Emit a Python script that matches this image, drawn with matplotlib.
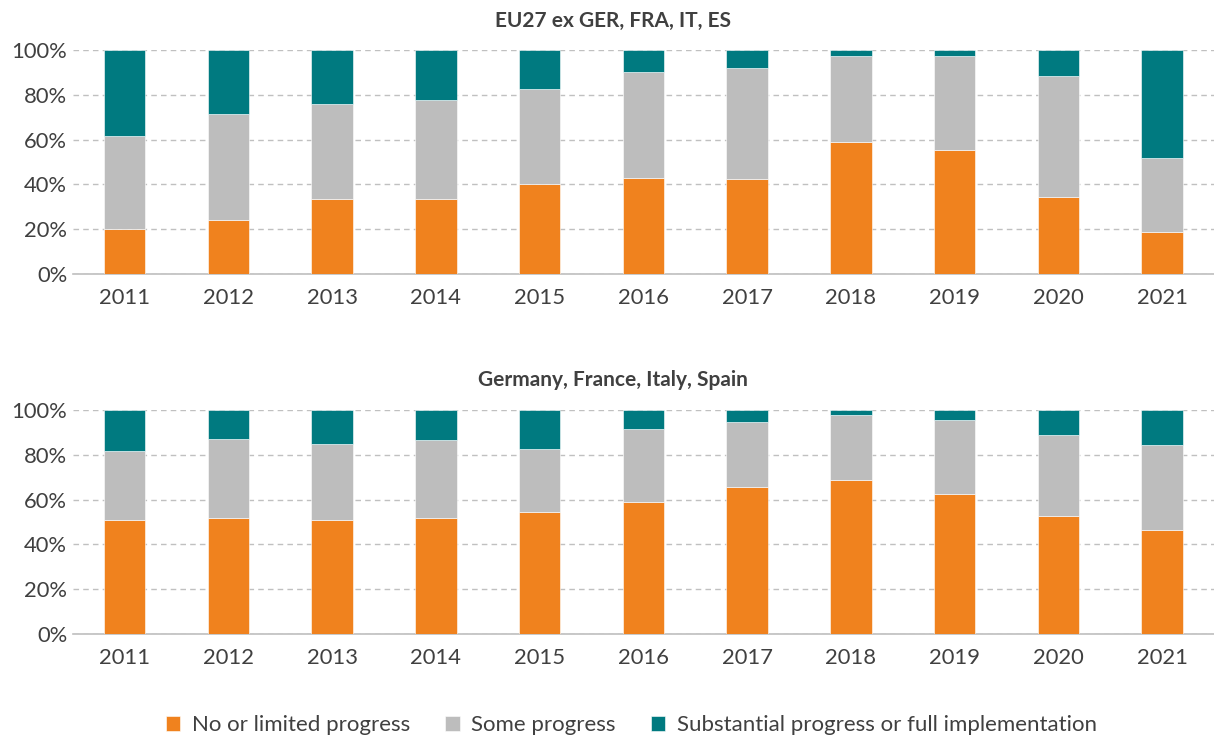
import matplotlib as mpl
import matplotlib.pyplot as plt
import numpy as np

mpl.rcParams['font.family'] = ['Lato', 'DejaVu Sans']

years = ['2011', '2012', '2013', '2014', '2015', '2016', '2017', '2018', '2019', '2020', '2021']

# EU27 ex GER, FRA, IT, ES (shares in %)
top_none = [20.0, 24.0, 33.4, 33.4, 40.1, 42.7, 42.2, 59.1, 55.2, 34.2, 18.7]
top_some = [41.8, 47.3, 42.3, 44.1, 42.7, 47.7, 49.7, 38.4, 42.3, 54.0, 33.1]
top_subst = [38.2, 28.7, 24.3, 22.5, 17.2, 9.6, 8.1, 2.5, 2.5, 11.8, 48.2]

# Germany, France, Italy, Spain (shares in %)
bot_none = [51.0, 52.0, 51.1, 51.6, 54.7, 59.0, 65.7, 68.6, 62.7, 52.5, 46.6]
bot_some = [30.8, 35.0, 33.8, 34.8, 28.0, 32.7, 29.1, 29.3, 32.7, 36.3, 37.6]
bot_subst = [18.2, 13.0, 15.1, 13.6, 17.3, 8.3, 5.2, 2.1, 4.6, 11.2, 15.8]

labels = ['No or limited progress', 'Some progress', 'Substantial progress or full implementation']
colors = ['#F0821E', '#BDBDBD', '#007A80']
txt = '#404040'

fig = plt.figure(figsize=(12.14, 7.4), dpi=100)
ax1 = fig.add_axes([0.060, 0.6297, 0.940, 0.3027])
ax2 = fig.add_axes([0.060, 0.1432, 0.940, 0.3027])

x = np.arange(len(years))
handles = None
for ax, series, title, ty in [(ax1, (top_none, top_some, top_subst), 'EU27 ex GER, FRA, IT, ES', 0.972),
                              (ax2, (bot_none, bot_some, bot_subst), 'Germany, France, Italy, Spain', 0.487)]:
    bottom = np.zeros(len(years))
    hs = []
    for vals, c, lab in zip(series, colors, labels):
        h = ax.bar(x, vals, 0.4, bottom=bottom, color=c, label=lab, edgecolor='white', linewidth=0.4, zorder=3)
        bottom += np.array(vals)
        hs.append(h)
    handles = hs
    ax.set_xlim(-0.5, len(years) - 0.5)
    ax.set_ylim(0, 100)
    ax.set_yticks(np.arange(0, 101, 20))
    ax.set_yticklabels([f'{v}%' for v in range(0, 101, 20)])
    ax.set_xticks(x)
    ax.set_xticklabels(years)
    ax.yaxis.grid(True, linestyle=(0, (4, 3)), color='#C0C0C0', linewidth=1, zorder=0)
    for s in ['top', 'right', 'left']:
        ax.spines[s].set_visible(False)
    ax.spines['bottom'].set_color('#BFBFBF')
    ax.spines['bottom'].set_linewidth(1.2)
    ax.tick_params(length=0, labelsize=15.8, colors=txt, pad=4)
    ax.tick_params(axis='x', pad=10)
    fig.text(0.505, ty, title, ha='center', va='center', fontsize=15, fontweight='bold', color=txt)

fig.legend(handles, labels, loc='center', bbox_to_anchor=(0.52, 0.02), ncol=3, frameon=False,
           fontsize=16, handlelength=0.65, handleheight=0.65, handletextpad=0.5, columnspacing=1.6,
           labelcolor=txt)

plt.savefig('out.png', dpi=100)
